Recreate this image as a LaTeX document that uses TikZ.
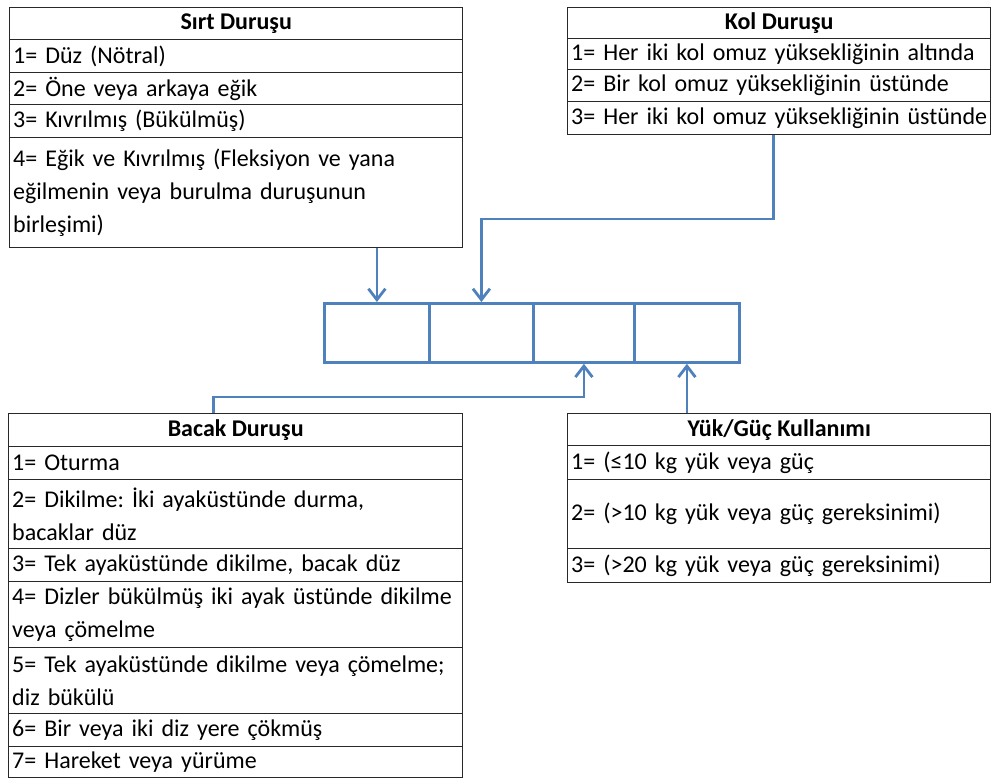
\documentclass[tikz,border=0pt]{standalone}
\usepackage{fontspec}
\setmainfont{Carlito}
\usetikzlibrary{arrows.meta}
\definecolor{linkblue}{RGB}{79,129,189}
\definecolor{frame}{RGB}{40,40,40}
\frenchspacing
\begin{document}
\begin{tikzpicture}[x=1pt,y=-1pt,
  cellbox/.style={draw=frame,line width=1.4pt,anchor=north west,inner xsep=3.5pt,inner ysep=0pt,
    align=left,font=\fontsize{24}{33}\selectfont\frenchspacing},
  headbox/.style={draw=frame,line width=1.4pt,anchor=north west,inner sep=0pt,
    align=center,font=\fontsize{24}{33}\selectfont\bfseries},
  midcell/.style={draw=linkblue,line width=2.8pt,anchor=north west,inner sep=0pt},
  conn/.style={draw=linkblue,line width=2.8pt,-{Straight Barb[length=11pt,width=17pt,line width=2.8pt]}}
]
\useasboundingbox (0,0) rectangle (992,778);
% Sirt Durusu
\node[headbox,minimum width=453pt,minimum height=32pt] (s0) at (9,7) {Sırt Duruşu};
\node[cellbox,text width=446pt,minimum height=33pt] (s1) at (9,39) {1= Düz (Nötral)};
\node[cellbox,text width=446pt,minimum height=32pt] (s2) at (9,72) {2= Öne veya arkaya eğik};
\node[cellbox,text width=446pt,minimum height=33pt] (s3) at (9,104) {3= Kıvrılmış (Bükülmüş)};
\node[cellbox,text width=446pt,minimum height=110pt] (s4) at (9,137) {4= Eğik ve Kıvrılmış (Fleksiyon ve yana\\eğilmenin veya burulma duruşunun\\birleşimi)};
% Kol Durusu
\node[headbox,minimum width=423pt,minimum height=31pt] (k0) at (567,7) {Kol Duruşu};
\node[cellbox,text width=416pt,minimum height=31pt] (k1) at (567,38) {1= Her iki kol omuz yüksekliğinin altında};
\node[cellbox,text width=416pt,minimum height=32pt] (k2) at (567,69) {2= Bir kol omuz yüksekliğinin üstünde};
\node[cellbox,text width=416pt,minimum height=33pt] (k3) at (567,101) {3= Her iki kol omuz yüksekliğinin üstünde};
% middle code boxes
\node[midcell,minimum width=105pt,minimum height=59pt] (m1) at (323,302) {};
\node[midcell,minimum width=104pt,minimum height=59pt] (m2) at (428,302) {};
\node[midcell,minimum width=101pt,minimum height=59pt] (m3) at (532,302) {};
\node[midcell,minimum width=105pt,minimum height=59pt] (m4) at (633,302) {};
% Bacak Durusu
\node[headbox,minimum width=454pt,minimum height=33pt] (b0) at (8,413) {Bacak Duruşu};
\node[cellbox,text width=447pt,minimum height=33pt] (b1) at (8,446) {1= Oturma};
\node[cellbox,text width=447pt,minimum height=69pt] (b2) at (8,479) {2= Dikilme: İki ayaküstünde durma,\\bacaklar düz};
\node[cellbox,text width=447pt,minimum height=33pt] (b3) at (8,548) {3= Tek ayaküstünde dikilme, bacak düz};
\node[cellbox,text width=447pt,minimum height=66pt] (b4) at (8,581) {4= Dizler bükülmüş iki ayak üstünde dikilme\\veya çömelme};
\node[cellbox,text width=447pt,minimum height=66pt] (b5) at (8,647) {5= Tek ayaküstünde dikilme veya çömelme;\\diz bükülü};
\node[cellbox,text width=447pt,minimum height=33pt] (b6) at (8,713) {6= Bir veya iki diz yere çökmüş};
\node[cellbox,text width=447pt,minimum height=31pt] (b7) at (8,746) {7= Hareket veya yürüme};
% Yuk/Guc Kullanimi
\node[headbox,minimum width=423pt,minimum height=32pt] (y0) at (567,413) {Yük/Güç Kullanımı};
\node[cellbox,text width=416pt,minimum height=34pt] (y1) at (567,445) {1= (≤10 kg yük veya güç};
\node[cellbox,text width=416pt,minimum height=69pt] (y2) at (567,479) {2= (>10 kg yük veya güç gereksinimi)};
\node[cellbox,text width=416pt,minimum height=34pt] (y3) at (567,548) {3= (>20 kg yük veya güç gereksinimi)};
% connectors
\coordinate (kfoot) at ([xshift=-6pt]k3.south);
\coordinate (bfoot) at ([xshift=-22pt]b0.north);
\draw[conn] (s4.south -| m1.north) -- (m1.north);
\draw[conn] (kfoot) |- (0,219 -| m2.north) -- (m2.north);
\draw[conn] (bfoot) |- (0,397 -| m3.south) -- (m3.south);
\draw[conn] (y0.north -| m4.south) -- (m4.south);
\end{tikzpicture}
\end{document}
